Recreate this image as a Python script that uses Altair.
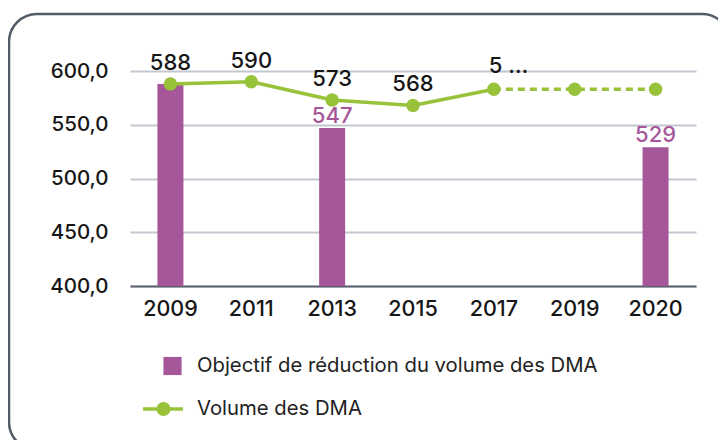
import altair as alt
import pandas as pd

years = ["2009", "2011", "2013", "2015", "2017", "2019", "2020"]
volume = [588, 590, 573, 568, 583, 583, 583]
volume_labels = ["588", "590", "573", "568", "5 …", "", ""]
objective_years = ["2009", "2013", "2020"]
objective = [588, 547, 529]
objective_labels = ["", "547", "529"]
legend_labels = ["Objectif de réduction du volume des DMA", "Volume des DMA"]
y_ticks = [400, 450, 500, 550, 600]

PURPLE = "#A6579A"
GREEN = "#97C23A"
FONT = "Inter"
TXT = "#161616"

vol_df = pd.DataFrame({"year": years, "volume": volume, "label": volume_labels,
                       "idx": list(range(len(years)))})
obj_df = pd.DataFrame({"year": objective_years, "objective": objective,
                       "label": objective_labels})

W, H = 566, 215

x_enc = alt.X("year:N", sort=years,
              scale=alt.Scale(type="band", domain=years, paddingInner=0, paddingOuter=0),
              axis=alt.Axis(title=None, ticks=False, grid=False, labelFont=FONT,
                            labelFontSize=21.5, labelFontWeight=500, labelColor=TXT,
                            labelPadding=12, domainColor="#5B6270", domainWidth=2,
                            labelAngle=0))
y_scale = alt.Scale(domain=[400, 600], nice=False, zero=False)
y_axis = alt.Axis(title=None, values=y_ticks, ticks=False, domain=False, grid=True,
                  gridColor="#C3C7D0", gridWidth=2, labelFont=FONT, labelFontSize=20.5,
                  labelFontWeight=500, labelColor=TXT, labelPadding=22,
                  labelExpr="replace(format(datum.value, '.1f'), '.', ',')")

one = alt.Data(values=[{"k": 0}])

border = alt.Chart(one).mark_rect(
    fillOpacity=0, stroke="#535A68", strokeWidth=2.5, cornerRadius=28
).encode(x=alt.value(-121), x2=alt.value(600), y=alt.value(-57), y2=alt.value(379))

bars = alt.Chart(obj_df).mark_bar(size=26, color=PURPLE).encode(
    x=x_enc, y=alt.Y("objective:Q", scale=y_scale, axis=y_axis), y2=alt.datum(400))

base_vol = alt.Chart(vol_df)
line_solid = base_vol.transform_filter("datum.idx <= 4").mark_line(
    color=GREEN, strokeWidth=3.5).encode(x=x_enc, y=alt.Y("volume:Q", scale=y_scale))
line_dash = base_vol.transform_filter("datum.idx >= 4").mark_line(
    color=GREEN, strokeWidth=3.5, strokeDash=[7, 5]).encode(
    x=x_enc, y=alt.Y("volume:Q", scale=y_scale))
points = base_vol.mark_point(filled=True, shape="circle", size=180, color=GREEN,
                             opacity=1).encode(x=x_enc, y=alt.Y("volume:Q", scale=y_scale))

vol_text = base_vol.transform_filter("datum.label != '' && datum.idx != 4").mark_text(
    font=FONT, fontSize=22, fontWeight=500, color=TXT, dy=-21, baseline="middle"
).encode(x=x_enc, y=alt.Y("volume:Q", scale=y_scale), text="label:N")
vol_text_trunc = base_vol.transform_filter("datum.idx == 4").mark_text(
    font=FONT, fontSize=22, fontWeight=500, color=TXT, dy=-23, dx=-5,
    align="left", baseline="middle"
).encode(x=x_enc, y=alt.Y("volume:Q", scale=y_scale), text="label:N")

obj_text = alt.Chart(obj_df).transform_filter("datum.label != ''").mark_text(
    font=FONT, fontSize=22, fontWeight=500, color=PURPLE, dy=-12, baseline="middle"
).encode(x=x_enc, y=alt.Y("objective:Q", scale=y_scale), text="label:N")

leg_df = pd.DataFrame({"label": legend_labels, "row": [0, 1]})
leg_sq = alt.Chart(one).mark_square(size=330, color=PURPLE, opacity=1).encode(
    x=alt.value(42.5), y=alt.value(295))
leg_line = alt.Chart(one).mark_rule(color=GREEN, strokeWidth=3.5).encode(
    x=alt.value(13), x2=alt.value(53), y=alt.value(338))
leg_pt = alt.Chart(one).mark_point(filled=True, shape="circle", size=200, color=GREEN,
                                   opacity=1).encode(x=alt.value(33.5), y=alt.value(338))
leg_txt1 = alt.Chart(leg_df).transform_filter("datum.row == 0").mark_text(
    font=FONT, fontSize=20.3, color="#222", align="left", baseline="middle").encode(
    x=alt.value(67), y=alt.value(295), text="label:N")
leg_txt2 = alt.Chart(leg_df).transform_filter("datum.row == 1").mark_text(
    font=FONT, fontSize=20.3, color="#222", align="left", baseline="middle").encode(
    x=alt.value(67), y=alt.value(338), text="label:N")

chart = alt.layer(
    border, bars, line_solid, line_dash, points, vol_text, vol_text_trunc, obj_text,
    leg_sq, leg_line, leg_pt, leg_txt1, leg_txt2
).properties(
    width=W, height=H,
    autosize=alt.AutoSizeParams(type="none"),
    padding={"left": 122, "top": 63, "right": 22, "bottom": 154},
).configure_view(stroke=None)

chart.save("out.html", embed_options={"renderer": "svg", "actions": False})
